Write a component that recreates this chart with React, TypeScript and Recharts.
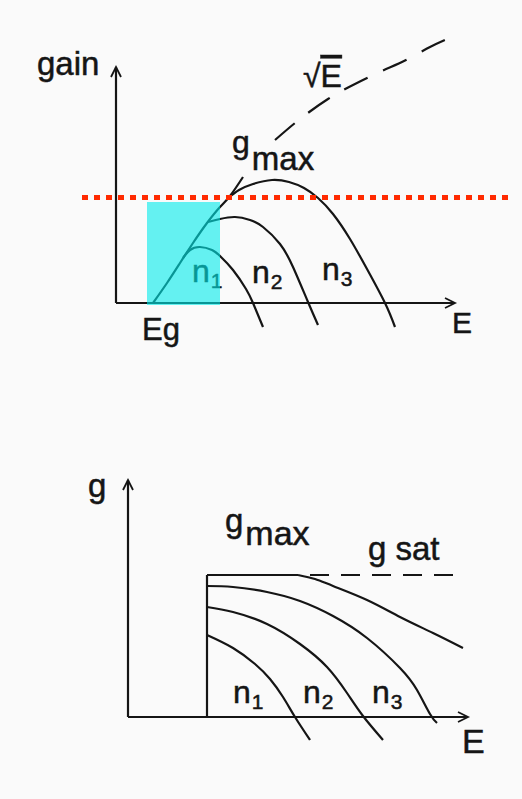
import React from 'react';
import {
  LineChart,
  Line,
  XAxis,
  YAxis,
  ReferenceLine,
  ReferenceArea,
  ReferenceDot,
} from 'recharts';

type Pt = [number, number];

// ---- upper panel: gain vs photon energy (arbitrary units) ----
const envelope: Pt[] = [[3.7, 0], [5.1, 2.0], [6.4, 4.0], [7.7, 6.0], [9.1, 8.0], [10.4, 9.6], [11.4, 10.7], [12.7, 12.6]];
const sqrtTail: Pt[] = [[15.9, 16.3], [18.4, 18.4], [21.2, 20.4], [23.7, 21.8], [26.6, 23.2], [29.0, 24.3], [31.4, 25.6], [33.1, 26.4]];
const gainN1: Pt[] = [[6.7, 4.5], [7.4, 5.3], [8.4, 5.6], [9.6, 5.3], [10.4, 4.7], [11.7, 3.3], [13.0, 1.4], [13.7, 0], [14.7, -2.4]];
const gainN2: Pt[] = [[9.2, 8.1], [10.4, 8.4], [11.9, 8.6], [13.4, 8.3], [14.7, 7.6], [16.4, 5.9], [17.7, 3.6], [19.2, 0.1], [20.2, -2.2]];
const gainN3: Pt[] = [[11.2, 10.5], [12.3, 11.3], [13.7, 11.9], [15.6, 12.3], [17.3, 12.1], [18.8, 11.5], [20.2, 10.5], [21.7, 8.9], [23.4, 6.4], [25.1, 3.4], [26.9, 0], [27.9, -2.4]];
const bandEdge = 3.1;
const windowRight = 10.4;
const windowTop = 10.1;
const lossLevel = 10.55;

// ---- lower panel: saturated gain ----
const satFlat: Pt[] = [[7.9, 14.2], [17.0, 14.2]];
const satBend: Pt[] = [[17.0, 14.2], [18.7, 13.8], [20.5, 13.1], [23.9, 11.7], [27.2, 10.0], [30.5, 8.4], [33.5, 6.9]];
const satDash: Pt[] = [[18.2, 14.2], [32.8, 14.2]];
const satN3: Pt[] = [[7.9, 13.1], [10.5, 13.0], [13.9, 12.5], [17.2, 11.6], [20.5, 10.1], [23.9, 7.9], [27.2, 4.9], [28.9, 2.7], [30.2, 0.3], [30.9, -0.6]];
const satN2: Pt[] = [[7.9, 11.0], [10.5, 10.5], [13.9, 9.3], [17.2, 7.3], [19.9, 5.0], [21.9, 2.4], [23.5, 0.1], [25.5, -2.3]];
const satN1: Pt[] = [[7.9, 8.2], [10.5, 6.9], [12.7, 5.3], [14.2, 3.8], [15.5, 2.0], [16.7, 0], [18.2, -2.3]];
const satEdge = 7.9;
const satLevel = 14.2;

const INK = '#151515';
const FONT = "'Liberation Sans', Arial, Helvetica, sans-serif";
const W = 522;

const rows = (pts: Pt[]) => pts.map(([x, y]) => ({ x, y }));

// axis line with an open arrow head at its far end
const arrowLine = (props: any) => {
  const { x1, y1, x2, y2 } = props;
  const len = Math.hypot(x2 - x1, y2 - y1) || 1;
  const ux = (x2 - x1) / len;
  const uy = (y2 - y1) / len;
  const bx = x2 - ux * 10;
  const by = y2 - uy * 10;
  return (
    <g>
      <line x1={x1} y1={y1} x2={x2} y2={y2} stroke={INK} strokeWidth={2.2} />
      <polyline
        points={`${bx - uy * 5},${by + ux * 5} ${x2},${y2} ${bx + uy * 5},${by - ux * 5}`}
        fill="none"
        stroke={INK}
        strokeWidth={1.8}
      />
    </g>
  );
};

// text label anchored at a data point (start / baseline), optional subscript
const note =
  (text: string, opt: { size?: number; sub?: string; subSize?: number; subDx?: number; subDy?: number; fill?: string; over?: string } = {}) =>
  (p: any) => (
    <text
      x={p.cx}
      y={p.cy}
      fontFamily={FONT}
      fontSize={opt.size ?? 32}
      fill={opt.fill ?? INK}
      stroke={opt.fill ?? INK}
      strokeWidth={0.5}
    >
      {text}
      {opt.over && <tspan textDecoration="overline">{opt.over}</tspan>}
      {opt.sub && (
        <tspan dx={opt.subDx ?? 1} dy={opt.subDy ?? 6} fontSize={opt.subSize ?? 21}>
          {opt.sub}
        </tspan>
      )}
    </text>
  );

const curve = (pts: Pt[], key: string, dash?: string, kind: 'natural' | 'linear' = 'natural') => (
  <Line
    key={key}
    data={rows(pts)}
    dataKey="y"
    type={kind}
    stroke={INK}
    strokeWidth={2.2}
    strokeDasharray={dash}
    dot={false}
    activeDot={false}
    isAnimationActive={false}
  />
);

const axes = (xd: [number, number], yd: [number, number]) => [
  <XAxis key="x" type="number" dataKey="x" domain={xd} allowDataOverflow hide />,
  <YAxis key="y" type="number" domain={yd} allowDataOverflow hide />,
];

const M = { top: 0, right: 0, bottom: 0, left: 0 };
const TOP_X: [number, number] = [-11.6, 40.6];
const TOP_Y: [number, number] = [-5.7, 30.3];
const BOT_X: [number, number] = [-12.8, 39.4];
const BOT_Y: [number, number] = [-8.2, 31.7];

function GainPanel() {
  return (
    <div style={{ position: 'absolute', left: 0, top: 0, width: W, height: 360 }}>
      <LineChart width={W} height={360} margin={M}>
        {axes(TOP_X, TOP_Y)}
        <ReferenceLine segment={[{ x: 0, y: 0 }, { x: 0, y: 23.6 }]} shape={arrowLine} />
        <ReferenceLine segment={[{ x: 0, y: 0 }, { x: 33.9, y: 0 }]} shape={arrowLine} />
        {curve(envelope, 'env')}
        {curve(sqrtTail, 'sqrt', '26 17')}
        {curve(gainN1, 'n1')}
        {curve(gainN2, 'n2')}
        {curve(gainN3, 'n3')}
        <ReferenceDot x={-7.9} y={22.8} r={1} shape={note('gain', { size: 33 })} />
        <ReferenceDot x={33.6} y={-3.0} r={1} shape={note('E', { size: 30 })} />
        <ReferenceDot x={2.6} y={-3.7} r={1} shape={note('Eg', { size: 31 })} />
        <ReferenceDot x={11.6} y={15.0} r={1} shape={note('g', { size: 32, sub: 'max', subSize: 33, subDx: 2, subDy: 17 })} />
        <ReferenceDot x={18.7} y={21.6} r={1} shape={note('√', { size: 32, over: 'E' })} />
        <ReferenceDot x={7.6} y={2.1} r={1} shape={note('n', { sub: '1' })} />
        <ReferenceDot x={13.6} y={2.0} r={1} shape={note('n', { sub: '2' })} />
        <ReferenceDot x={20.6} y={2.3} r={1} shape={note('n', { sub: '3' })} />
      </LineChart>
      {/* translucent window and loss threshold drawn above the curves */}
      <div style={{ position: 'absolute', left: 0, top: 0 }}>
        <LineChart width={W} height={360} margin={M}>
          {axes(TOP_X, TOP_Y)}
          {curve([[bandEdge, 0], [windowRight, windowTop]], 'anchor', '0 1000', 'linear')}
          <ReferenceArea
            x1={bandEdge}
            x2={windowRight}
            y1={-0.2}
            y2={windowTop}
            fill="#00ebeb"
            fillOpacity={0.6}
            stroke="none"
          />
          <ReferenceLine
            segment={[{ x: -3.4, y: lossLevel }, { x: 39.6, y: lossLevel }]}
            stroke="#ff2a00"
            strokeWidth={5}
            strokeDasharray="6 6"
          />
        </LineChart>
      </div>
    </div>
  );
}

function SaturationPanel() {
  return (
    <div style={{ position: 'absolute', left: 0, top: 400, width: W, height: 399 }}>
      <LineChart width={W} height={399} margin={M}>
        {axes(BOT_X, BOT_Y)}
        <ReferenceLine segment={[{ x: 0, y: 0 }, { x: 0, y: 23.7 }]} shape={arrowLine} />
        <ReferenceLine segment={[{ x: 0, y: 0 }, { x: 34.0, y: 0 }]} shape={arrowLine} />
        <ReferenceLine segment={[{ x: satEdge, y: 0 }, { x: satEdge, y: satLevel }]} stroke={INK} strokeWidth={2.2} />
        {curve(satFlat, 'flat', undefined, 'linear')}
        {curve(satBend, 'bend')}
        {curve(satDash, 'sat', '19 12', 'linear')}
        {curve(satN3, 'n3')}
        {curve(satN2, 'n2')}
        {curve(satN1, 'n1')}
        <ReferenceDot x={-4.0} y={22.0} r={1} shape={note('g', { size: 33 })} />
        <ReferenceDot x={33.4} y={-3.6} r={1} shape={note('E', { size: 34 })} />
        <ReferenceDot x={9.7} y={18.5} r={1} shape={note('g', { size: 33, sub: 'max', subSize: 34, subDx: 2, subDy: 13 })} />
        <ReferenceDot x={24.0} y={15.7} r={1} shape={note('g sat', { size: 33 })} />
        <ReferenceDot x={10.5} y={1.4} r={1} shape={note('n', { sub: '1' })} />
        <ReferenceDot x={17.5} y={1.4} r={1} shape={note('n', { sub: '2' })} />
        <ReferenceDot x={24.4} y={1.4} r={1} shape={note('n', { sub: '3' })} />
      </LineChart>
    </div>
  );
}

export default function App() {
  return (
    <div
      style={{
        position: 'fixed',
        left: 0,
        top: 0,
        width: W,
        height: 799,
        background: '#fafafa',
        overflow: 'hidden',
      }}
    >
      <GainPanel />
      <SaturationPanel />
    </div>
  );
}
